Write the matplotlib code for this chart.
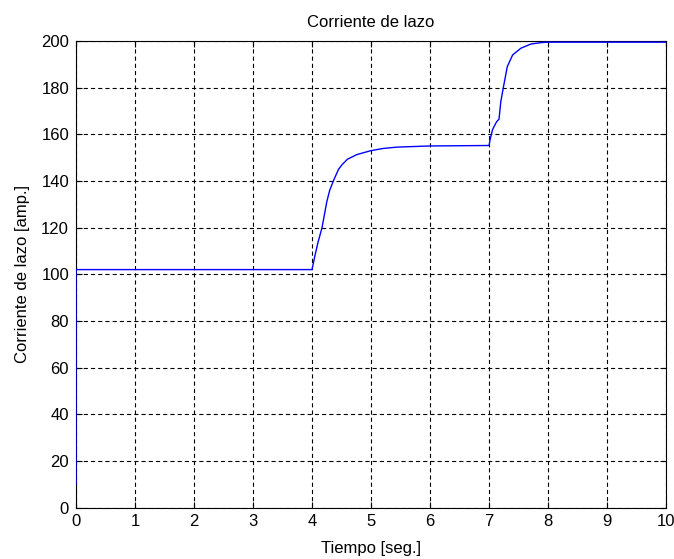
import matplotlib
matplotlib.use('Agg')
import matplotlib.pyplot as plt
import numpy as np

tiempo = [0.0, 0.0, 0.005, 4.0, 4.05, 4.1, 4.17, 4.25, 4.3, 4.37, 4.45, 4.51, 4.6, 4.76,
          5.0, 5.2, 5.44, 6.0, 7.0, 7.03, 7.06, 7.1, 7.13, 7.17, 7.2, 7.25, 7.31, 7.4,
          7.54, 7.71, 7.88, 8.0, 10.0]
corriente = [10.0, 102.0, 102.0, 102.0, 108.0, 113.5, 120.0, 131.0, 136.0, 140.5, 145.0, 147.0,
             149.3, 151.3, 153.0, 153.9, 154.5, 155.0, 155.2, 159.0, 162.0, 164.0, 165.4, 166.5,
             174.0, 181.0, 189.0, 194.0, 196.9, 198.7, 199.3, 199.5, 199.5]

x_ticks = list(range(0, 11))
y_ticks = list(range(0, 201, 20))

plt.rcParams['font.family'] = ['Liberation Sans', 'DejaVu Sans']
plt.rcParams['lines.scale_dashes'] = False

fig = plt.figure(figsize=(6.74, 5.59), dpi=100)
ax = fig.add_axes([76/674, 1 - 507.5/559, 590/674, 466.5/559])

ax.plot(tiempo, corriente, color='#0000ff', lw=1.0, zorder=3)

ax.set_xlim(0, 10)
ax.set_ylim(0, 200)
ax.set_xticks(x_ticks)
ax.set_yticks(y_ticks)
ax.grid(True, color='black', linestyle=(0, (3, 2.2)), lw=0.8)
ax.tick_params(direction='in', top=True, right=True, length=4, width=0.8,
               labelsize=12, pad=5)
for s in ax.spines.values():
    s.set_linewidth(0.8)

ax.set_title('Corriente de lazo', fontsize=12, pad=10)
ax.set_xlabel('Tiempo [seg.]', fontsize=12, labelpad=8)
ax.set_ylabel('Corriente de lazo [amp.]', fontsize=12, labelpad=8)

fig.savefig('out.png', dpi=100)
